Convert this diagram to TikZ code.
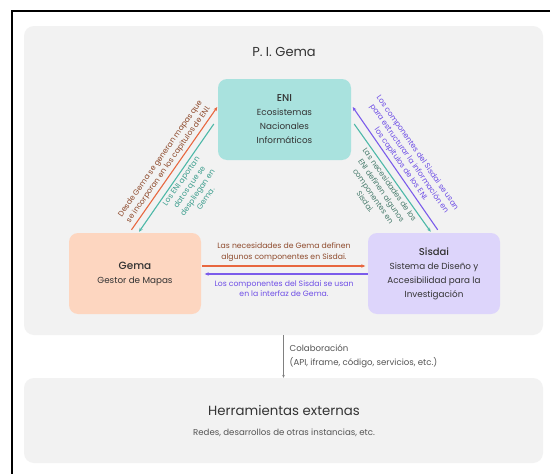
\documentclass[tikz,border=0pt]{standalone}
\usepackage{fontspec}
\setmainfont{Poppins}
\newfontfamily\medfont{Poppins Medium}
\usetikzlibrary{arrows.meta,calc}
\definecolor{panelgray}{HTML}{F2F2F2}
\definecolor{enifill}{HTML}{A9E2DE}
\definecolor{gemafill}{HTML}{FDD6C0}
\definecolor{sisfill}{HTML}{DDD5FB}
\definecolor{arrorange}{HTML}{E8673F}
\definecolor{arrteal}{HTML}{4DB8A8}
\definecolor{arrpurple}{HTML}{7B5CEB}
\definecolor{txtbrown}{HTML}{8E4A2C}
\definecolor{txtteal}{HTML}{3E9E8E}
\definecolor{txtgreen}{HTML}{4A7D6E}
\definecolor{txtpurple}{HTML}{6E4EE6}
\definecolor{txtdark}{HTML}{333333}
\definecolor{txtgray}{HTML}{555555}
\begin{document}
\begin{tikzpicture}[x=1pt,y=-1pt,
  panelbox/.style={fill=panelgray, rounded corners=10pt, inner sep=0pt},
  compbox/.style={rounded corners=9pt, minimum width=133pt, minimum height=81pt, align=center, inner sep=0pt, text=txtdark, font={\fontsize{8.8}{14}\selectfont}},
  conn/.style={line width=1.1pt, -{Stealth[length=4pt,width=3.4pt]}},
  lbl/.style={align=center, inner sep=2.5pt, font={\fontsize{7.6}{10}\selectfont}},
  hlbl/.style={align=center, inner sep=0pt, font={\fontsize{7.7}{10.5}\selectfont}}
]
\useasboundingbox (0,0) rectangle (550,474);
\fill[white] (0,0) rectangle (550,474);
% outer border
\draw[line width=2pt, black] (550,11) -- (12,11) -- (12,474);

% panels
\node[panelbox, minimum width=519pt, minimum height=309pt] (pi) at (283.5,180.5) {};
\node[panelbox, minimum width=519pt, minimum height=85pt] (ext) at (283.5,420.5) {};

\node[text=txtdark, font={\fontsize{13}{15}\selectfont}] (title) at (284,52) {P. I. Gema};

% component boxes
\node[compbox, fill=enifill] (eni) at (284.5,119.5)
  {{\medfont\fontsize{10}{14}\selectfont ENI}\\Ecosistemas\\Nacionales\\Informáticos};
\node[compbox, fill=gemafill, minimum width=132pt] (gema) at (135,273.5)
  {{\medfont\fontsize{10.5}{15}\selectfont Gema}\\Gestor de Mapas};
\node[compbox, fill=sisfill, minimum width=132pt] (sisdai) at (434,273.5)
  {{\medfont\fontsize{10}{14}\selectfont Sisdai}\\Sistema de Diseño y\\Accesibilidad para la\\Investigación};

% diagonal connectors left
\draw[conn, arrorange] ($(gema.north)+(-3.5,-3)$) -- node[midway, lbl, text=txtbrown, rotate=55, anchor=south]
  {Desde Gema se generan mapas que\\se incorporan en los capítulos de ENI.} ($(eni.west)+(-0.5,-12.5)$);
\draw[conn, arrteal] ($(eni.west)+(-4,4.5)$) -- node[midway, lbl, text=txtteal, rotate=55, anchor=north]
  {Los ENI aportan\\datos que se\\despliegan en\\Gema.} ($(gema.north)+(4,-1)$);
% diagonal connectors right
\draw[conn, arrpurple] ($(sisdai.north)+(3.7,-3)$) -- node[midway, lbl, text=txtpurple, rotate=-55, anchor=south]
  {Los componentes del Sisdai se usan\\para estructurar la información en\\los capítulos de los ENI.} ($(eni.east)+(1.5,-12.5)$);
\draw[conn, arrteal] ($(eni.east)+(3,4.5)$) -- node[pos=0.53, lbl, text=txtgreen, rotate=-55, anchor=north]
  {Las necesidades de los\\ENI definen algunos\\componentes en\\Sisdai.} ($(sisdai.north)+(-3.3,-1)$);
% horizontal connectors
\draw[conn, arrorange] ($(gema.east)+(1,-7.5)$) -- ($(sisdai.west)+(-2.5,-7.5)$);
\draw[conn, arrpurple] ($(sisdai.west)+(0,0.5)$) -- ($(gema.east)+(3.5,0.5)$);

\node[hlbl, text=txtbrown] (l5) at (284,252)
  {Las necesidades de Gema definen\\algunos componentes en Sisdai.};
\node[hlbl, text=txtpurple] (l6) at (284,288.5)
  {Los componentes del Sisdai se usan\\en la interfaz de Gema.};

% collaboration arrow
\draw[line width=0.7pt, gray, -{Stealth[length=3pt,width=2.6pt]}] (pi.south) -- (ext.north);
\node[anchor=west, align=left, inner sep=0pt, text=txtgray, font={\fontsize{8.6}{14}\selectfont}] (colab) at (289.5,356)
  {Colaboración\\(API, iframe, código, servicios, etc.)};

\node[text=txtdark, font={\fontsize{13.3}{16}\selectfont}] (herr) at (284,410) {Herramientas externas};
\node[text=txtgray, font={\fontsize{8.6}{10}\selectfont}] (redes) at (284,433) {Redes, desarrollos de otras instancias, etc.};
\end{tikzpicture}
\end{document}
